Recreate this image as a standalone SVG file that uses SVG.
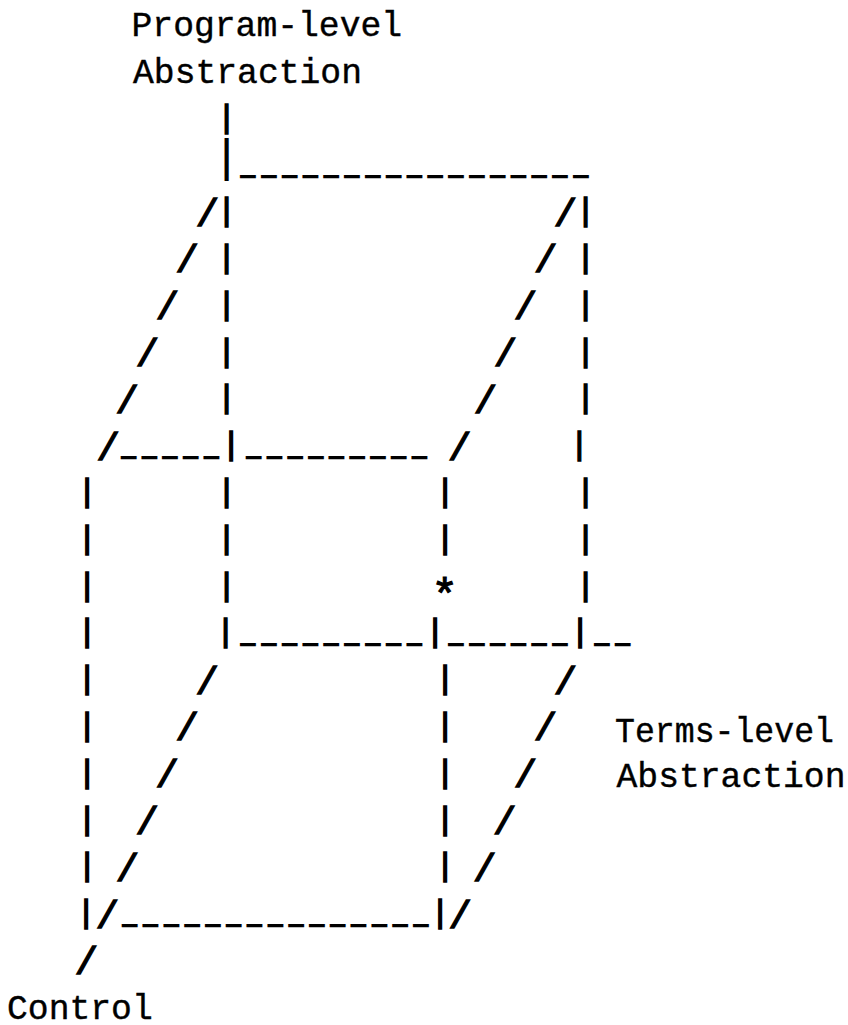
<svg xmlns="http://www.w3.org/2000/svg" width="848" height="1025" viewBox="0 0 848 1025">
<style>
.lbl{font-family:"Liberation Mono","DejaVu Sans Mono",monospace;font-size:34.7px;fill:#000;stroke:#000;stroke-width:0.4}
.bar{font-family:"Liberation Mono","DejaVu Sans Mono",monospace;font-size:32px;fill:#000;stroke:#000;stroke-width:1.5;text-anchor:middle}
.sl{font-family:"Liberation Mono","DejaVu Sans Mono",monospace;font-size:39.5px;fill:#000;stroke:#000;stroke-width:1.3;text-anchor:middle}
.us{font-family:"Liberation Mono","DejaVu Sans Mono",monospace;font-size:23px;fill:#000;stroke:#000;stroke-width:2;text-anchor:middle}
.ast{font-family:"Liberation Mono","DejaVu Sans Mono",monospace;font-size:44px;fill:#000;stroke:#000;stroke-width:1.2;text-anchor:middle}
</style>
<rect width="848" height="1025" fill="#fff"/>
<g id="label-program">
<text class="lbl" x="131.5" y="36">Program-level</text>
<text class="lbl" x="133" y="83">Abstraction</text>
</g>
<g id="label-terms">
<text class="lbl" x="615" y="741.5" textLength="219" lengthAdjust="spacingAndGlyphs">Terms-level</text>
<text class="lbl" x="616.5" y="787">Abstraction</text>
</g>
<g id="label-control">
<text class="lbl" x="7" y="1019">Control</text>
</g>
<g id="connectors">
<g id="bars">
<text class="bar" transform="translate(226.7,180) scale(1,1.4)" x="0" y="-6.7">|</text>
<text class="bar" x="226.7 226.7 226.7 226.7 226.7 226.7 231 226.7 226.7 226.7 225.7" y="126.5 220.1 266.9 313.7 360.5 407.3 454.1 500.9 547.7 594.5 641.3">|||||||||||</text>
<text class="bar" x="585.7 585.7 585.7 585.7 585.7 579.3 585.7 585.7 585.7 580" y="220.1 266.9 313.7 360.5 407.3 454.1 500.9 547.7 594.5 641.3">||||||||||</text>
<text class="bar" x="87 87 87 87 87 87 87 87 87 86" y="500.9 547.7 594.5 641.3 688.1 734.9 781.7 828.5 875.3 922.1">||||||||||</text>
<text class="bar" x="445 445 435 445 445 445 445 445 440" y="500.9 547.7 641.3 688.1 734.9 781.7 828.5 875.3 922.1">|||||||||</text>
</g>
<g id="slashes">
<text class="sl" x="207.3 187 167.3 147.3 127 108" y="225.6 272.4 319.2 366 412.8 459.6">//////</text>
<text class="sl" x="565.3 545.7 525.3 505.3 485.3 459.7" y="225.6 272.4 319.2 366 412.8 459.6">//////</text>
<text class="sl" x="207 187 167 147 127.3 107.3 86.3" y="693.6 740.4 787.2 834 880.8 927.6 974.4">///////</text>
<text class="sl" x="565.3 545.3 525.3 504.7 484.7 460" y="693.6 740.4 787.2 834 880.8 927.6">//////</text>
</g>
<g id="underscores">
<text class="us" x="248 268.8 289.6 310.4 331.2 352 372.8 393.6 414.4 435.2 456 476.8 497.6 518.4 539.2 560 580.8" y="175">_________________</text>
<text class="us" x="128.7 149.4 170 190.6 211.3 253.7 274.4 295.1 315.8 336.5 357.2 377.9 398.6 419.3" y="455.8">______________</text>
<text class="us" x="248 268.8 289.6 310.4 331.2 352 372.8 393.6 414.4 456 476.8 497.6 518.4 539.2 560 602 622.7" y="643">_________________</text>
<text class="us" x="129.7 150.5 171.3 192.1 212.9 233.7 254.5 275.3 296.1 316.9 337.7 358.5 379.3 400.1 420.9" y="923.8">_______________</text>
</g>
</g>
<g id="center-point">
<text class="ast" x="444.7" y="609">*</text>
</g>
</svg>
